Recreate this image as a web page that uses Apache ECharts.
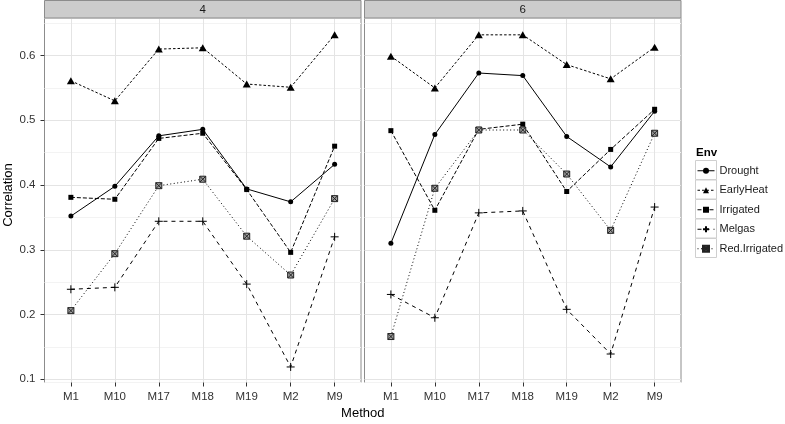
<!DOCTYPE html>
<html>
<head>
<meta charset="utf-8">
<script src="https://cdn.jsdelivr.net/npm/echarts@6/dist/echarts.min.js"></script>
<style>html,body{margin:0;padding:0;background:#fff;}#c{width:785px;height:424px;}</style>
</head>
<body>
<div id="c"></div>
<script>
// ---- data ----
var methods = ['M1','M10','M17','M18','M19','M2','M9'];
var panels = ['4','6'];
var envs = ['Drought','EarlyHeat','Irrigated','Melgas','Red.Irrigated'];
var yTicks = [0.1,0.2,0.3,0.4,0.5,0.6];
// panel "4"
var drought4   = [0.352,0.398,0.476,0.486,0.394,0.374,0.432];
var earlyHeat4 = [0.561,0.530,0.610,0.612,0.556,0.551,0.632];
var irrigated4 = [0.381,0.378,0.472,0.480,0.393,0.296,0.460];
var melgas4    = [0.239,0.242,0.344,0.344,0.247,0.119,0.320];
var redIrr4    = [0.206,0.294,0.399,0.409,0.321,0.261,0.379];
// panel "6"
var drought6   = [0.310,0.478,0.573,0.569,0.475,0.428,0.514];
var earlyHeat6 = [0.599,0.550,0.632,0.632,0.586,0.564,0.613];
var irrigated6 = [0.484,0.361,0.486,0.494,0.390,0.455,0.517];
var melgas6    = [0.231,0.195,0.357,0.360,0.208,0.139,0.366];
var redIrr6    = [0.166,0.395,0.485,0.485,0.417,0.330,0.480];

var panelData = [
  [drought4, earlyHeat4, irrigated4, melgas4, redIrr4],
  [drought6, earlyHeat6, irrigated6, melgas6, redIrr6]
];

// ---- layout ----
var Y_MIN = 0.095, Y_MAX = 0.658;
var panelLeft = [44.5, 364.5];
var panelW = 316.5;
var panelTop = 18, panelBottom = 382.5;
var inset = panelW * 0.6 / 7.2;
var dataW = panelW * 6 / 7.2;
var border = '#8c8c8c';

var plusPath = 'path://M5,0L5,10M0,5L10,5';
var boxXPath = 'path://M0,0L10,0L10,10L0,10ZM0,0L10,10M10,0L0,10';

var styles = [
  {symbol:'circle', size:5, dash:'solid', color:'#000', border:null},
  {symbol:'triangle', size:[8,7], dash:[2.5,2], color:'#000', border:null},
  {symbol:'rect', size:5, dash:[4,2], color:'#000', border:null},
  {symbol:plusPath, size:8, dash:[4,4], color:'none', border:'#000'},
  {symbol:boxXPath, size:6, dash:[1,2.5], color:'#a0a0a0', border:'#222'}
];

var grids = [], xAxes = [], yAxes = [], series = [], graphics = [];
panels.forEach(function(p, pi){
  var L = panelLeft[pi];
  grids.push({left:L, top:panelTop, width:panelW, height:panelBottom-panelTop,
    show:true, backgroundColor:'#fff', borderColor:border, borderWidth:1});
  grids.push({left:L+inset, top:panelTop, width:dataW, height:panelBottom-panelTop});
  xAxes.push({gridIndex:pi*2, type:'value', min:0, max:1, show:false});
  xAxes.push({gridIndex:pi*2+1, type:'category', data:methods, boundaryGap:false,
    axisLine:{show:false},
    axisTick:{show:true, length:4, lineStyle:{color:'#333'}},
    axisLabel:{color:'#333', fontSize:11.5, margin:8, fontFamily:'Liberation Sans'},
    splitLine:{show:true, lineStyle:{color:'#e4e4e4', width:1}}});
  yAxes.push({gridIndex:pi*2, type:'value', min:Y_MIN, max:Y_MAX, splitNumber:11,
    axisLine:{show:false}, axisTick:{show:false}, axisLabel:{show:false},
    splitLine:{show:true, lineStyle:{color:['#f3f3f3','#e4e4e4'], width:1}}});
  yAxes.push({gridIndex:pi*2+1, type:'value', min:Y_MIN, max:Y_MAX, offset:inset,
    axisLine:{show:false},
    axisTick:{show:pi===0, length:4, lineStyle:{color:'#333'}, customValues:yTicks},
    axisLabel:{show:pi===0, color:'#333', fontSize:11.5, margin:9, fontFamily:'Liberation Sans',
      customValues:yTicks, formatter:function(v){return v.toFixed(1);}},
    splitLine:{show:false}});
  envs.forEach(function(e, ei){
    var s = styles[ei];
    series.push({
      name:e, type:'line', xAxisIndex:pi*2+1, yAxisIndex:pi*2+1,
      data:panelData[pi][ei], clip:false,
      symbol:s.symbol, symbolSize:s.size, showSymbol:true,
      lineStyle:{color:'#000', width:1, type:s.dash},
      itemStyle:{color:s.color, borderColor:s.border||'#000', borderWidth:s.border?1:0, opacity:1},
      emphasis:{disabled:true}, animation:false, z:3+ei
    });
  });
  graphics.push({type:'rect', shape:{x:L, y:0.5, width:panelW, height:panelTop-0.5},
    style:{fill:'#cccccc', stroke:border, lineWidth:1}, z:10});
  graphics.push({type:'text', x:L+panelW/2, y:panelTop/2+0.5,
    style:{text:p, fill:'#1a1a1a', fontSize:11.5, fontFamily:'Liberation Sans', align:'center', verticalAlign:'middle'}, z:11});
});

graphics.push({type:'text', x:(panelLeft[0]+panelLeft[1]+panelW)/2, y:413,
  style:{text:'Method', fill:'#000', fontSize:13, fontFamily:'Liberation Sans', align:'center', verticalAlign:'middle'}});
graphics.push({type:'text', x:8, y:195, rotation:Math.PI/2,
  style:{text:'Correlation', fill:'#000', fontSize:13, fontFamily:'Liberation Sans', align:'center', verticalAlign:'middle'}});
graphics.push({type:'text', x:696, y:153,
  style:{text:'Env', fill:'#000', fontSize:11.5, fontWeight:'bold', fontFamily:'Liberation Sans', align:'left', verticalAlign:'middle'}});
envs.forEach(function(e, i){
  graphics.push({type:'rect', shape:{x:695.5, y:160.5+i*19.5, width:21, height:19},
    style:{fill:'#fff', stroke:'#cfcfcf', lineWidth:1}, z:-1});
});

var chart = echarts.init(document.getElementById('c'), null, {renderer:'canvas'});
chart.setOption({
  animation:false,
  backgroundColor:'#fff',
  textStyle:{fontFamily:'Liberation Sans'},
  grid:grids, xAxis:xAxes, yAxis:yAxes, series:series, graphic:graphics,
  legend:{
    data:envs, orient:'vertical', left:697, top:161, padding:0,
    itemWidth:17, itemHeight:7.5, itemGap:0,
    lineStyle:{width:1},
    textStyle:{fontSize:11, lineHeight:19.5, color:'#1a1a1a', fontFamily:'Liberation Sans'},
    selectedMode:false
  }
});
</script>
</body>
</html>
